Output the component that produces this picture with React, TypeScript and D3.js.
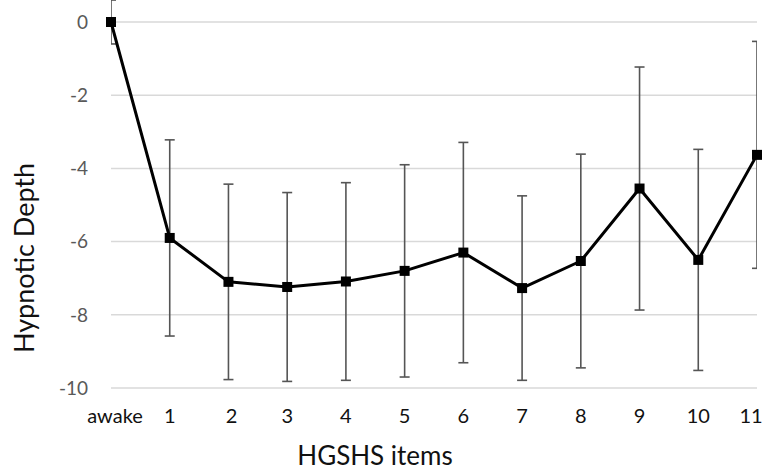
import React, { useEffect, useRef } from 'react'
import * as d3 from 'd3'

const width = 766
const height = 471

// HGSHS items, mean hypnotic depth and its error bar (sd)
const items = ['awake', '1', '2', '3', '4', '5', '6', '7', '8', '9', '10', '11']
const means = [0, -5.9, -7.1, -7.24, -7.09, -6.8, -6.3, -7.27, -6.53, -4.55, -6.5, -3.63]
const errors = [0.6, 2.68, 2.67, 2.58, 2.7, 2.9, 3.01, 2.52, 2.92, 3.32, 3.02, 3.1]
const yTicks = [0, -2, -4, -6, -8, -10]

const font = 'Lato, "Open Sans", sans-serif'

export default function App() {
	const svgRef = useRef<SVGSVGElement>(null)

	useEffect(() => {
		const root = d3.select(svgRef.current)
		root.selectAll('*').remove()

		const x = d3.scalePoint<string>().domain(items).range([111, 757])
		const y = d3.scaleLinear().domain([0, -10]).range([22, 388])
		const data = items.map((k, i) => ({ k, v: means[i], e: errors[i] }))

		root.append('defs').append('clipPath').attr('id', 'plot-clip')
			.append('rect')
			.attr('x', 111).attr('y', 0)
			.attr('width', 757 - 111).attr('height', height)

		// gridlines
		root.append('g').selectAll('line').data(yTicks).enter().append('line')
			.attr('x1', 111).attr('x2', 757)
			.attr('y1', d => y(d)).attr('y2', d => y(d))
			.attr('stroke', '#d9d9d9').attr('stroke-width', 1.5)

		// y tick labels
		root.append('g').selectAll('text').data(yTicks).enter().append('text')
			.attr('x', 88).attr('y', d => y(d))
			.attr('dy', '0.36em')
			.attr('text-anchor', 'end')
			.attr('font-family', font).attr('font-size', 19)
			.attr('fill', '#595959')
			.text(d => d)

		// x tick labels (excel nudges the first and last a bit)
		const nudge: Record<string, number> = { awake: 4, '2': 3, '11': -6 }
		root.append('g').selectAll('text').data(items).enter().append('text')
			.attr('x', d => x(d)! + (nudge[d] || 0))
			.attr('y', 423)
			.attr('text-anchor', 'middle')
			.attr('font-family', font).attr('font-size', 20)
			.attr('fill', '#111')
			.text(d => d)

		// error bars
		const eb = root.append('g').attr('clip-path', 'url(#plot-clip)')
			.selectAll('g').data(data).enter().append('g')
			.attr('stroke', '#555').attr('stroke-width', 1.6)
		eb.append('line')
			.attr('x1', d => x(d.k)!).attr('x2', d => x(d.k)!)
			.attr('y1', d => y(d.v + d.e)).attr('y2', d => y(d.v - d.e))
		eb.append('line')
			.attr('x1', d => x(d.k)! - 5).attr('x2', d => x(d.k)! + 5)
			.attr('y1', d => y(d.v + d.e)).attr('y2', d => y(d.v + d.e))
		eb.append('line')
			.attr('x1', d => x(d.k)! - 5).attr('x2', d => x(d.k)! + 5)
			.attr('y1', d => y(d.v - d.e)).attr('y2', d => y(d.v - d.e))

		// mean line
		const line = d3.line<{ k: string; v: number }>()
			.x(d => x(d.k)!)
			.y(d => y(d.v))
		root.append('path')
			.attr('d', line(data))
			.attr('fill', 'none')
			.attr('stroke', '#000')
			.attr('stroke-width', 3)
			.attr('stroke-linejoin', 'round')

		// markers
		root.append('g').selectAll('rect').data(data).enter().append('rect')
			.attr('x', d => x(d.k)! - 5).attr('y', d => y(d.v) - 5)
			.attr('width', 10).attr('height', 10)
			.attr('fill', '#000')

		// axis titles
		root.append('text')
			.attr('transform', 'translate(34, 258) rotate(-90)')
			.attr('text-anchor', 'middle')
			.attr('font-family', font).attr('font-size', 27)
			.attr('fill', '#111')
			.text('Hypnotic Depth')
		root.append('text')
			.attr('x', 375).attr('y', 465)
			.attr('text-anchor', 'middle')
			.attr('font-family', font).attr('font-size', 26)
			.attr('fill', '#111')
			.text('HGSHS items')
	}, [])

	return (
		<svg ref={svgRef} width={width} height={height}
			style={{ position: 'absolute', left: 0, top: 0, background: '#fff' }} />
	)
}
